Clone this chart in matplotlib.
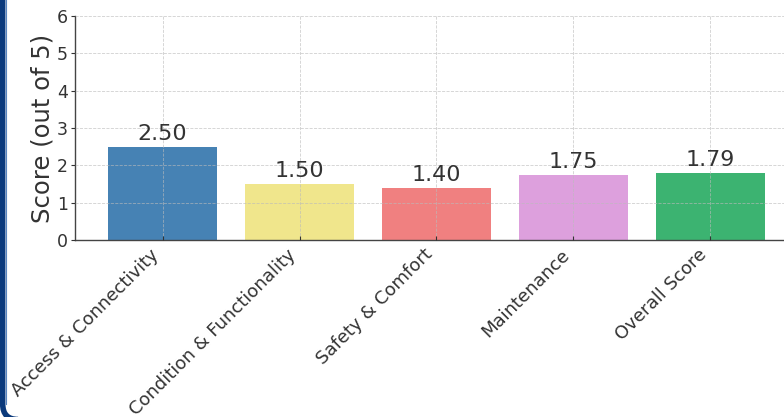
import matplotlib
matplotlib.use("Agg")
import matplotlib.pyplot as plt
from matplotlib.path import Path
from matplotlib.patches import PathPatch

categories = ["Access & Connectivity", "Condition & Functionality", "Safety & Comfort",
              "Maintenance", "Overall Score"]
scores = [2.50, 1.50, 1.40, 1.75, 1.79]
bar_colors = ["steelblue", "khaki", "lightcoral", "plum", "mediumseagreen"]
y_ticks = [0, 1, 2, 3, 4, 5, 6]

W, H = 784, 417
fig = plt.figure(figsize=(W / 100, H / 100), dpi=100)
fig.patch.set_facecolor("white")

# frame decoration (pixel coordinates)
bg = fig.add_axes([0, 0, 1, 1], zorder=0)
bg.set_xlim(0, W)
bg.set_ylim(H, 0)
bg.axis("off")
verts = [(2.7, -5), (2.7, 404), (2.7, 419.5), (18, 419.5)]
codes = [Path.MOVETO, Path.LINETO, Path.CURVE3, Path.CURVE3]
bg.add_patch(PathPatch(Path(verts, codes), facecolor="none", edgecolor="#0b3a7c",
                       linewidth=4.0, capstyle="butt"))
bg.plot([5.9, 5.9], [-5, 404], color="#5a86c0", linewidth=0.8)

ax = fig.add_axes([75 / W, (H - 240) / H, 723 / W, 224 / H], zorder=1)
ax.set_facecolor("none")
x = list(range(len(categories)))
ax.bar(x, scores, width=0.8, color=bar_colors, zorder=2)
for xi, v in zip(x, scores):
    ax.text(xi, v + 0.08, f"{v:.2f}", ha="center", va="bottom", fontsize=16, color="#333333")

ax.set_ylim(0, 6)
ax.set_yticks(y_ticks)
ax.set_xticks(x)
ax.set_xticklabels(categories, rotation=45, ha="right", fontsize=13, color="#333333")
ax.tick_params(axis="y", labelsize=12.5, colors="#333333", length=3, pad=2)
ax.tick_params(axis="x", length=3, direction="in", colors="#333333", pad=4)
ax.set_ylabel("Score (out of 5)", fontsize=17.5, color="#333333", labelpad=2)
ax.grid(True, linestyle="--", linewidth=0.6, color="#bbbbbb", alpha=0.7, zorder=3)
ax.set_axisbelow(False)
for s in ["top", "right"]:
    ax.spines[s].set_visible(False)
for s in ["left", "bottom"]:
    ax.spines[s].set_color("#444444")
    ax.spines[s].set_linewidth(1.0)

fig.savefig("out.png", dpi=100)
